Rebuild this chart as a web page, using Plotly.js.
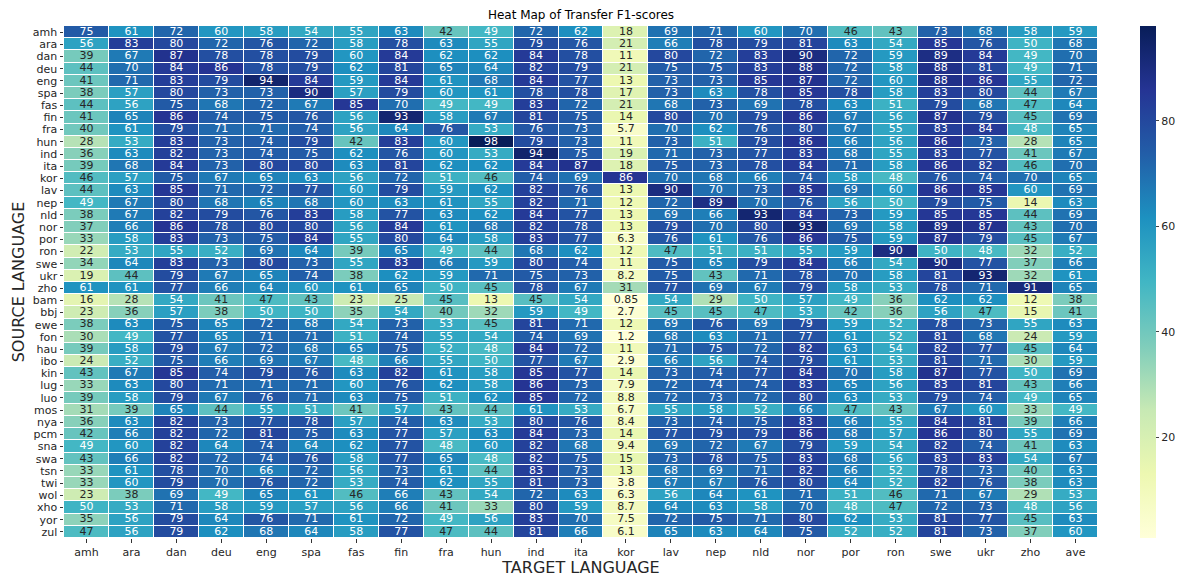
<!DOCTYPE html>
<html>
<head>
<meta charset="utf-8">
<script src="https://cdn.plot.ly/plotly-3.0.1.min.js"></script>
<style>html,body{margin:0;padding:0;background:#fff;}#chart{width:1200px;height:577px;}</style>
</head>
<body>
<div id="chart"></div>
<script>
const targetLangs = ["amh","ara","dan","deu","eng","spa","fas","fin","fra","hun","ind","ita","kor","lav","nep","nld","nor","por","ron","swe","ukr","zho","ave"];
const sourceLangs = ["amh","ara","dan","deu","eng","spa","fas","fin","fra","hun","ind","ita","kor","lav","nep","nld","nor","por","ron","swe","ukr","zho","bam","bbj","ewe","fon","hau","ibo","kin","lug","luo","mos","nya","pcm","sna","swa","tsn","twi","wol","xho","yor","zul"];

const row_amh = [75,61,72,60,58,54,55,63,42,49,72,62,18,69,71,60,70,46,43,73,68,58,59];
const row_ara = [56,83,80,72,76,72,58,78,63,55,79,76,21,66,78,79,81,63,54,85,76,50,68];
const row_dan = [39,67,87,78,78,79,60,84,62,62,84,78,11,80,72,83,90,72,59,89,84,49,70];
const row_deu = [44,70,84,86,78,79,62,81,65,64,82,79,21,75,75,83,88,72,58,88,81,49,71];
const row_eng = [41,71,83,79,94,84,59,84,61,68,84,77,13,73,73,85,87,72,60,88,86,55,72];
const row_spa = [38,57,80,73,73,90,57,79,60,61,78,78,17,73,63,78,85,78,58,83,80,44,67];
const row_fas = [44,56,75,68,72,67,85,70,49,49,83,72,21,68,73,69,78,63,51,79,68,47,64];
const row_fin = [41,65,86,74,75,76,56,93,58,67,81,75,14,80,70,79,86,67,56,87,79,45,69];
const row_fra = [40,61,79,71,71,74,56,64,76,53,76,73,5.7,70,62,76,80,67,55,83,84,48,65];
const row_hun = [28,53,83,73,74,79,42,83,60,98,79,73,11,73,51,79,86,66,56,86,73,28,65];
const row_ind = [36,63,82,73,74,75,62,76,60,53,94,75,19,71,73,77,83,68,55,83,77,41,67];
const row_ita = [39,68,84,73,80,80,63,81,62,62,84,87,18,75,73,78,84,71,58,86,82,46,70];
const row_kor = [46,57,75,67,65,63,56,72,51,46,74,69,86,70,68,66,74,58,48,76,74,70,65];
const row_lav = [44,63,85,71,72,77,60,79,59,62,82,76,13,90,70,73,85,69,60,86,85,60,69];
const row_nep = [49,67,80,68,65,68,60,63,61,55,82,71,12,72,89,70,76,56,50,79,75,14,63];
const row_nld = [38,67,82,79,76,83,58,77,63,62,84,77,13,69,66,93,84,73,59,85,85,44,69];
const row_nor = [37,66,86,78,80,80,56,84,61,68,82,78,13,79,70,80,93,69,58,89,87,43,70];
const row_por = [33,58,83,73,75,84,55,80,64,58,83,77,6.3,76,61,76,86,75,59,87,79,45,67];
const row_ron = [22,53,55,52,69,64,39,65,49,44,68,62,12,47,51,51,55,59,90,50,48,32,52];
const row_swe = [34,64,83,73,80,73,55,83,66,59,80,74,11,75,65,79,84,66,54,90,77,37,66];
const row_ukr = [19,44,79,67,65,74,38,62,59,71,75,73,8.2,75,43,71,78,70,58,81,93,32,61];
const row_zho = [61,61,77,66,64,60,61,65,50,45,78,67,31,77,69,67,79,58,53,78,71,91,65];
const row_bam = [16,28,54,41,47,43,23,25,45,13,45,54,0.85,54,29,50,57,49,36,62,62,12,38];
const row_bbj = [23,36,57,38,50,50,35,54,40,32,59,49,2.7,45,45,47,53,42,36,56,47,15,41];
const row_ewe = [38,63,75,65,72,68,54,73,53,45,81,71,12,69,76,69,79,59,52,78,73,55,63];
const row_fon = [30,49,77,65,71,71,51,74,55,54,74,69,1.2,68,63,71,77,61,52,81,68,24,59];
const row_hau = [39,58,79,67,72,68,65,75,52,48,84,72,11,71,75,72,82,63,54,82,77,45,64];
const row_ibo = [24,52,75,66,69,67,48,66,55,50,77,67,2.9,66,56,74,79,61,53,81,71,30,59];
const row_kin = [43,67,85,74,79,76,63,82,61,58,85,77,14,73,74,77,84,70,58,87,77,50,69];
const row_lug = [33,63,80,71,71,71,60,76,62,58,86,73,7.9,72,74,74,83,65,56,83,81,43,66];
const row_luo = [39,58,79,67,76,71,63,75,51,62,85,72,8.8,72,73,72,80,63,53,79,74,49,65];
const row_mos = [31,39,65,44,55,51,41,57,43,44,61,53,6.7,55,58,52,66,47,43,67,60,33,49];
const row_nya = [36,63,82,73,77,78,57,74,63,53,80,76,8.4,73,74,75,83,66,55,84,81,39,66];
const row_pcm = [42,66,82,72,81,75,63,77,57,63,84,73,14,77,79,79,86,68,57,86,80,55,69];
const row_sna = [49,60,82,64,74,64,62,77,48,60,82,68,9.4,69,72,67,79,59,54,82,74,41,63];
const row_swa = [43,66,82,72,74,76,58,77,65,48,82,75,15,73,78,75,83,68,56,83,83,54,67];
const row_tsn = [33,61,78,70,66,72,56,73,61,44,83,73,13,68,69,71,82,66,52,78,73,40,63];
const row_twi = [33,60,79,70,76,72,53,74,62,55,81,73,3.8,67,67,76,80,64,52,82,76,38,63];
const row_wol = [23,38,69,49,65,61,46,66,43,54,72,63,6.3,56,64,61,71,51,46,71,67,29,53];
const row_xho = [50,53,71,58,59,57,56,66,41,33,80,59,8.7,64,63,58,70,48,47,72,73,48,56];
const row_yor = [35,56,79,64,76,71,61,72,49,56,83,70,7.5,72,75,71,80,62,53,81,77,45,63];
const row_zul = [47,56,79,62,68,64,58,77,47,44,81,66,6.1,65,63,64,75,52,52,81,73,37,60];

const z = [row_amh,row_ara,row_dan,row_deu,row_eng,row_spa,row_fas,row_fin,row_fra,row_hun,row_ind,row_ita,row_kor,row_lav,row_nep,row_nld,row_nor,row_por,row_ron,row_swe,row_ukr,row_zho,row_bam,row_bbj,row_ewe,row_fon,row_hau,row_ibo,row_kin,row_lug,row_luo,row_mos,row_nya,row_pcm,row_sna,row_swa,row_tsn,row_twi,row_wol,row_xho,row_yor,row_zul];

const ylgnbu = ["#ffffd9","#edf8b1","#c7e9b4","#7fcdbb","#41b6c4","#1d91c0","#225ea8","#253494","#081d58"];
const colorscale = ylgnbu.map((c,i)=>[i/(ylgnbu.length-1), c]);

let zmin = Infinity, zmax = -Infinity;
z.forEach(r=>r.forEach(v=>{ if(v<zmin) zmin=v; if(v>zmax) zmax=v; }));

function hexToRgb(h){ return [parseInt(h.slice(1,3),16),parseInt(h.slice(3,5),16),parseInt(h.slice(5,7),16)]; }
function colorAt(v){
  let t = (v - zmin)/(zmax - zmin); t = Math.max(0, Math.min(1, t));
  const n = ylgnbu.length - 1;
  const i = Math.min(n-1, Math.floor(t*n));
  const f = t*n - i;
  const a = hexToRgb(ylgnbu[i]), b = hexToRgb(ylgnbu[i+1]);
  return a.map((c,k)=>c + (b[k]-c)*f);
}
function lum(rgb){
  const lin = rgb.map(c=>{ c/=255; return c<=0.03928 ? c/12.92 : Math.pow((c+0.055)/1.055, 2.4); });
  return 0.2126*lin[0] + 0.7152*lin[1] + 0.0722*lin[2];
}
function fmt(v){ return String(Number(v.toPrecision(2))); }

const tx=[], ty=[], tt=[], tc=[];
z.forEach((r,i)=>r.forEach((v,j)=>{
  tx.push(targetLangs[j]); ty.push(sourceLangs[i]); tt.push(fmt(v));
  tc.push(lum(colorAt(v)) > 0.408 ? "#262626" : "#ffffff");
}));

const heat = {
  type: "heatmap", z: z, x: targetLangs, y: sourceLangs,
  colorscale: colorscale, zmin: zmin, zmax: zmax,
  xgap: 1, ygap: 1, hoverongaps: false,
  colorbar: {
    x: 1.0406, xanchor: "left", xpad: 0, y: 0.5, yanchor: "middle", ypad: 0, len: 1, lenmode: "fraction",
    thickness: 16, outlinewidth: 0, tickvals: [20,40,60,80], ticks: "outside", ticklen: 3.5,
    tickfont: {family: "DejaVu Sans", size: 11, color: "#262626"}
  }
};
const labels = {
  type: "scatter", mode: "text", x: tx, y: ty, text: tt,
  textfont: {family: "DejaVu Sans", size: 11, color: tc},
  hoverinfo: "skip", showlegend: false, cliponaxis: false
};

const layout = {
  width: 1200, height: 577,
  margin: {l: 64, r: 102, t: 26, b: 39},
  paper_bgcolor: "#ffffff", plot_bgcolor: "#ffffff",
  font: {family: "DejaVu Sans", color: "#262626"},
  title: {text: "Heat Map of Transfer F1-scores", x: 0.5, xref: "paper", xanchor: "center", y: 0.975, yanchor: "middle", font: {size: 12, family: "DejaVu Sans", color: "#000"}},
  xaxis: {
    type: "category", range: [-0.5, targetLangs.length - 0.5], autorange: false,
    tickmode: "array", tickvals: targetLangs, ticktext: targetLangs,
    showgrid: false, zeroline: false, showline: false,
    ticks: "outside", ticklen: 3.5, tickcolor: "#333", tickfont: {size: 11}, tickangle: 0,
    title: {text: "TARGET LANGUAGE", font: {size: 16}, standoff: 4}
  },
  yaxis: {
    type: "category", range: [sourceLangs.length - 0.5, -0.5], autorange: false,
    tickmode: "array", tickvals: sourceLangs, ticktext: sourceLangs,
    showgrid: false, zeroline: false, showline: false,
    ticks: "outside", ticklen: 3.5, tickcolor: "#333", tickfont: {size: 11},
    title: {text: "SOURCE LANGUAGE", font: {size: 16}, standoff: 4}
  }
};

Plotly.newPlot("chart", [heat, labels], layout, {displayModeBar: false, responsive: false});
</script>
</body>
</html>
